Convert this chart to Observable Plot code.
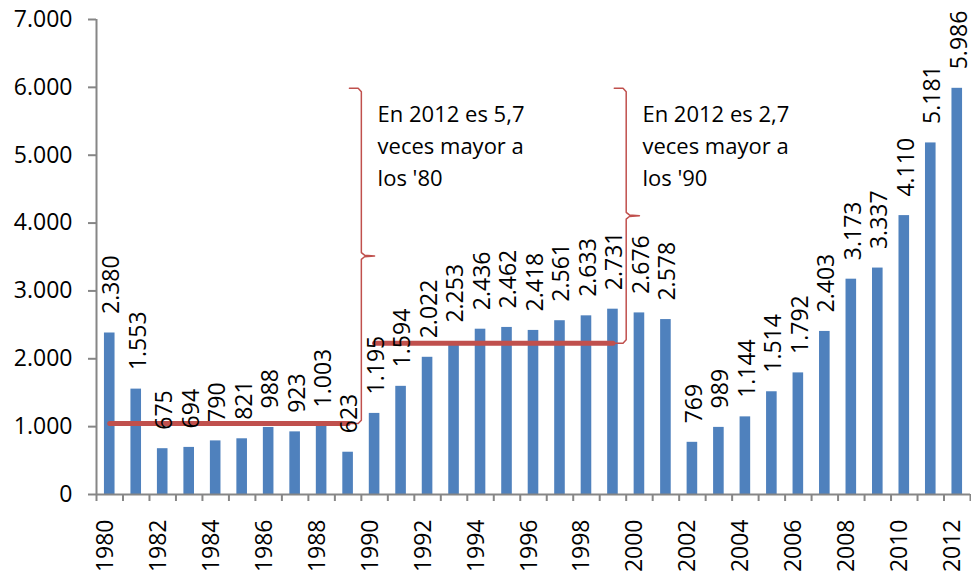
<!DOCTYPE html>
<html><head><meta charset="utf-8">
<script src="https://cdn.jsdelivr.net/npm/d3@7"></script>
<script src="https://cdn.jsdelivr.net/npm/@observablehq/plot@0.6"></script>
<style>body{margin:0;background:#fff} svg{display:block}</style>
</head><body><div id="chart"></div>
<script>
const years = [1980,1981,1982,1983,1984,1985,1986,1987,1988,1989,1990,1991,1992,1993,1994,1995,1996,1997,1998,1999,2000,2001,2002,2003,2004,2005,2006,2007,2008,2009,2010,2011,2012];
const values = [2380,1553,675,694,790,821,988,923,1003,623,1195,1594,2022,2253,2436,2462,2418,2561,2633,2731,2676,2578,769,989,1144,1514,1792,2403,3173,3337,4110,5181,5986];
const yTicks = [0,1000,2000,3000,4000,5000,6000,7000];
const labelYears = [1980,1982,1984,1986,1988,1990,1992,1994,1996,1998,2000,2002,2004,2006,2008,2010,2012];
const decades = [[1980,1989],[1990,1999]];
const notes = ["En 2012 es 5,7\nveces mayor a\nlos '80", "En 2012 es 2,7\nveces mayor a\nlos '90"];

const data = years.map((y, i) => ({year: y, value: values[i]}));
const fmt = d3.formatLocale({decimal: ",", thousands: ".", grouping: [3], currency: ["", ""]}).format(",d");
const last = data[data.length - 1].value;
const boundaries = [years[0] - 0.5, ...years.map(y => y + 0.5)];
const avgs = decades.map(([a, b]) => ({start: a, end: b,
  avg: d3.mean(data.filter(d => d.year >= a && d.year <= b), d => d.value)}));
const lines = avgs.flatMap((d, k) => [{k, x: d.start, y: d.avg}, {k, x: d.end, y: d.avg}]);
const braces = avgs.flatMap((d, k) => {
  const b = d.end + 0.5, mid = (d.avg + last) / 2, r = 50;
  return [[d.end + 0.05, d.avg], [b - 0.12, d.avg], [b, d.avg + r], [b, mid - r], [b + 0.12, mid - 12],
          [b + 0.5, mid], [b + 0.12, mid + 12], [b, mid + r], [b, last - r], [b - 0.12, last], [d.end + 0.05, last]]
    .map(([x, y]) => ({k, x, y}));
});

const chart = Plot.plot({
  width: 971, height: 577,
  marginLeft: 96, marginRight: 1, marginTop: 19, marginBottom: 83,
  style: {fontFamily: "'Open Sans', sans-serif", fontSize: "23px", color: "#000", background: "#fff"},
  x: {type: "linear", domain: [1979.5, 2012.5]},
  y: {domain: [0, 7000]},
  marks: [
    Plot.axisY(yTicks, {tickSize: 8, tickPadding: 16, tickFormat: fmt, stroke: "#868686", strokeWidth: 2, fill: "#000", fontSize: 23}),
    Plot.axisX(boundaries, {tickSize: 7, tickFormat: () => "", stroke: "#868686", strokeWidth: 2}),
    Plot.rectY(data, {x1: d => d.year - 0.2, x2: d => d.year + 0.2, y1: 0, y2: "value", fill: "#4F81BD"}),
    Plot.ruleY([0], {stroke: "#868686", strokeWidth: 2}),
    Plot.ruleX([boundaries[0]], {y1: 0, y2: 7000, stroke: "#868686", strokeWidth: 2}),
    Plot.line(lines, {x: "x", y: "y", z: "k", stroke: "#C0504D", strokeWidth: 5, strokeLinecap: "round"}),
    Plot.line(braces, {x: "x", y: "y", z: "k", stroke: "#C0504D", strokeWidth: 1.5}),
    Plot.text(data, {x: "year", y: "value", text: d => fmt(d.value), rotate: -90, textAnchor: "start", dy: -19, dx: 2, fontSize: 23, fill: "#000"}),
    Plot.text(labelYears, {x: d => d, frameAnchor: "bottom", text: d => String(d), rotate: -90, textAnchor: "end", dy: 25, dx: 3, fontSize: 23, fill: "#000"}),
    Plot.text(avgs, {x: d => d.end + 1, y: () => last, text: (d, i) => notes[i], textAnchor: "start", lineAnchor: "top", lineHeight: 1.45, fontSize: 22, dx: 3, dy: 11, fill: "#000"})
  ]
});
document.getElementById("chart").append(chart);
</script>
</body></html>
